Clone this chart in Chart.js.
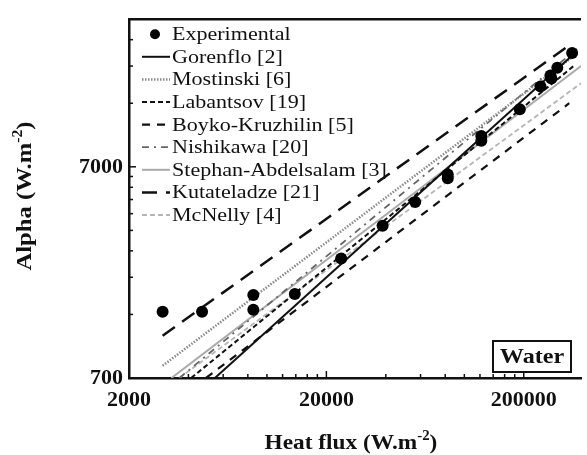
<!DOCTYPE html>
<html>
<head>
<meta charset="utf-8">
<script src="https://cdn.jsdelivr.net/npm/chart.js@4.4.0/dist/chart.umd.min.js"></script>
<style>
  html, body { margin: 0; padding: 0; background: #fff; }
</style>
</head>
<body>
<canvas id="boilingChart" width="587" height="455"></canvas>
<script>
// experimental points
const expHeatFlux = [2960, 4690, 8530, 8530, 13840, 23770, 38550, 56360, 82420, 82420,
                     121900, 121900, 191000, 243200, 273000, 276000, 295800, 351600];
const expAlpha = [1441, 1441, 1730, 1472, 1750, 2578, 3679, 4765, 6443, 6172,
                  9808, 9295, 13120, 16810, 18930, 18320, 20630, 24240];

// correlations: straight lines on log-log, given by their two ends
const corrNames = ["Gorenflo [2]", "Mostinski [6]", "Labantsov [19]", "Boyko-Kruzhilin [5]",
                   "Nishikawa [20]", "Stephan-Abdelsalam [3]", "Kutateladze [21]", "McNelly [4]"];
const corrFluxStart = [5450, 2960, 4130, 4910, 3600, 3280, 2960, 3600];
const corrAlphaStart = [700, 800, 700, 700, 700, 700, 1110, 700];
const corrFluxEnd = [360000, 360000, 360000, 340000, 372000, 390000, 347600, 390000];
const corrAlphaEnd = [24000, 23500, 21100, 14000, 25300, 21000, 26700, 17400];

const xLabelValues = [2000, 20000, 200000];
const yLabelValues = [700, 7000];

const serif = '"Liberation Serif", "Times New Roman", serif';

const corrStyles = [
    { color: "#111", width: 2, dash: [] },
    { color: "#8a8a8a", width: 2.5, dash: [1.5, 1.5] },
    { color: "#111", width: 2, dash: [5, 3] },
    { color: "#111", width: 2.2, dash: [8, 7] },
    { color: "#666", width: 1.8, dash: [7, 5, 2, 5] },
    { color: "#aaa", width: 2, dash: [] },
    { color: "#111", width: 2.5, dash: [15, 9] },
    { color: "#b5b5b5", width: 1.8, dash: [5, 3] }
];

function decadeTicks(start, stop) {
    const out = [];
    for (let base = start; base < stop * 10; base *= 10) {
        for (let k = 1; k <= 9; k++) {
            const v = base * k;
            if (v <= stop) out.push(v);
        }
    }
    return out;
}

const datasets = [{
    label: "Experimental",
    data: expHeatFlux.map((q, i) => ({ x: q, y: expAlpha[i] })),
    showLine: false,
    pointRadius: 6,
    pointHoverRadius: 6,
    backgroundColor: "#000",
    borderWidth: 0,
    order: 0
}];

corrNames.forEach((name, i) => {
    const st = corrStyles[i];
    datasets.push({
        label: name,
        data: [
            { x: corrFluxStart[i], y: corrAlphaStart[i] },
            { x: corrFluxEnd[i], y: corrAlphaEnd[i] }
        ],
        showLine: true,
        pointRadius: 0,
        borderColor: st.color,
        borderWidth: st.width,
        borderDash: st.dash,
        order: 1
    });
});

// inward tick marks + top frame line
const frameTicks = {
    id: "frameTicks",
    afterDraw(chart) {
        const ctx = chart.ctx;
        const a = chart.chartArea;
        const xs = chart.scales.x, ys = chart.scales.y;
        ctx.save();
        ctx.strokeStyle = "#111";
        ctx.lineWidth = 1.5;
        xs.ticks.forEach(t => {
            const px = xs.getPixelForValue(t.value);
            const len = xLabelValues.includes(t.value) ? 7 : 4;
            ctx.beginPath();
            ctx.moveTo(px, a.bottom);
            ctx.lineTo(px, a.bottom - len);
            ctx.stroke();
        });
        ys.ticks.forEach(t => {
            const py = ys.getPixelForValue(t.value);
            const len = yLabelValues.includes(t.value) ? 7 : 4;
            ctx.beginPath();
            ctx.moveTo(a.left, py);
            ctx.lineTo(a.left + len, py);
            ctx.stroke();
        });
        ctx.lineWidth = 2.5;
        ctx.beginPath();
        ctx.moveTo(a.left - 1, a.top);
        ctx.lineTo(a.right, a.top);
        ctx.stroke();
        ctx.restore();
    }
};

const insideLegend = {
    id: "insideLegend",
    afterDraw(chart) {
        const ctx = chart.ctx;
        const a = chart.chartArea;
        const x0 = a.left + 13, y0 = a.top + 15;
        chart.data.datasets.forEach((ds, i) => {
            const y = y0 + i * 22.6;
            ctx.save();
            if (ds.showLine === false) {
                ctx.fillStyle = "#000";
                ctx.beginPath();
                ctx.arc(x0 + 13, y, 5, 0, Math.PI * 2);
                ctx.fill();
            } else {
                ctx.strokeStyle = ds.borderColor;
                ctx.lineWidth = ds.borderWidth;
                ctx.setLineDash(ds.borderDash || []);
                ctx.beginPath();
                ctx.moveTo(x0, y);
                ctx.lineTo(x0 + 28, y);
                ctx.stroke();
            }
            ctx.setLineDash([]);
            ctx.fillStyle = "#111";
            ctx.font = "19px " + serif;
            ctx.textBaseline = "middle";
            ctx.translate(x0 + 30, y + 1);
            ctx.scale(1.16, 1);
            ctx.fillText(ds.label, 0, 0);
            ctx.restore();
        });
    }
};

function drawSupTitle(ctx, main, sup, tail, size) {
    ctx.font = "bold " + size + "px " + serif;
    const w1 = ctx.measureText(main).width;
    const w3 = ctx.measureText(tail).width;
    ctx.font = "bold " + Math.round(size * 0.62) + "px " + serif;
    const w2 = ctx.measureText(sup).width;
    let x = -(w1 + w2 + w3) / 2;
    ctx.textBaseline = "alphabetic";
    ctx.font = "bold " + size + "px " + serif;
    ctx.fillText(main, x, 0);
    x += w1;
    ctx.font = "bold " + Math.round(size * 0.62) + "px " + serif;
    ctx.fillText(sup, x, -size * 0.42);
    x += w2;
    ctx.font = "bold " + size + "px " + serif;
    ctx.fillText(tail, x, 0);
}

const titlesAndNote = {
    id: "titlesAndNote",
    afterDraw(chart) {
        const ctx = chart.ctx;
        const a = chart.chartArea;
        ctx.save();
        ctx.fillStyle = "#111";
        ctx.translate(351, 449);
        ctx.scale(1.06, 1);
        drawSupTitle(ctx, "Heat flux (W.m", "-2", ")", 22);
        ctx.restore();

        ctx.save();
        ctx.fillStyle = "#111";
        ctx.translate(31, 196);
        ctx.rotate(-Math.PI / 2);
        ctx.scale(1.12, 1);
        drawSupTitle(ctx, "Alpha (W.m", "-2", ")", 22);
        ctx.restore();

        // "Water" label box
        ctx.save();
        const bx = a.right - 88, by = a.bottom - 37;
        ctx.fillStyle = "#fff";
        ctx.fillRect(bx, by, 78, 31);
        ctx.strokeStyle = "#111";
        ctx.lineWidth = 2;
        ctx.strokeRect(bx, by, 78, 31);
        ctx.fillStyle = "#111";
        ctx.font = "bold 21px " + serif;
        ctx.textAlign = "center";
        ctx.textBaseline = "middle";
        ctx.translate(bx + 39, by + 17);
        ctx.scale(1.15, 1);
        ctx.fillText("Water", 0, 0);
        ctx.restore();
    }
};

new Chart(document.getElementById("boilingChart"), {
    type: "scatter",
    data: { datasets: datasets },
    options: {
        responsive: false,
        animation: false,
        layout: { padding: { top: 15, left: 0, right: 0, bottom: 0 } },
        plugins: {
            legend: { display: false },
            tooltip: { enabled: false }
        },
        scales: {
            x: {
                type: "logarithmic",
                min: 2000,
                max: 390000,
                afterFit(scale) { scale.height = 77; },
                afterBuildTicks(scale) {
                    scale.ticks = decadeTicks(2000, 390000).map(v => ({ value: v }));
                },
                ticks: {
                    autoSkip: false,
                    maxRotation: 0,
                    padding: 9,
                    color: "#111",
                    font: { family: serif, size: 22, weight: "bold" },
                    callback: v => xLabelValues.includes(v) ? String(v) : ""
                },
                grid: { drawOnChartArea: false, drawTicks: false },
                border: { color: "#111", width: 2.5 }
            },
            y: {
                type: "logarithmic",
                min: 700,
                max: 35000,
                afterFit(scale) { scale.width = 129; },
                afterBuildTicks(scale) {
                    scale.ticks = decadeTicks(700, 35000).map(v => ({ value: v }));
                },
                ticks: {
                    autoSkip: false,
                    padding: 6,
                    color: "#111",
                    font: { family: serif, size: 22, weight: "bold" },
                    callback: v => yLabelValues.includes(v) ? String(v) : ""
                },
                grid: { drawOnChartArea: false, drawTicks: false },
                border: { color: "#111", width: 2.5 }
            }
        }
    },
    plugins: [frameTicks, insideLegend, titlesAndNote]
});
</script>
</body>
</html>
